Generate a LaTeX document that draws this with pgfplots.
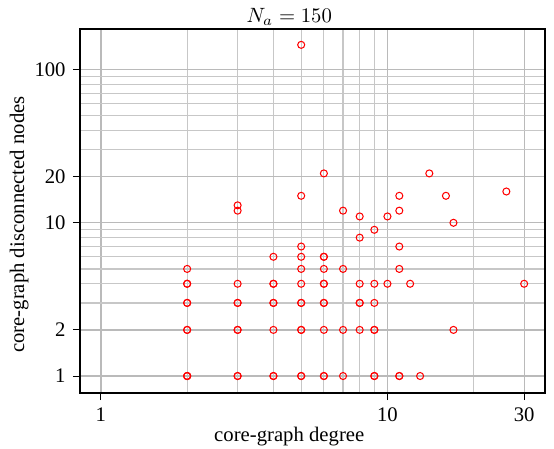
\documentclass[border=0pt]{standalone}
\usepackage{fontspec}
\setmainfont{Liberation Serif}
\usepackage{pgfplots}
\pgfplotsset{compat=1.18}
\begin{document}
\begin{tikzpicture}
\begin{axis}[
  scale only axis,
  width=224.6pt, height=175.8pt,
  xmode=log, ymode=log,
  xmin=0.845, xmax=35.5,
  ymin=0.774, ymax=184,
  xtick={1,10,30}, xticklabels={1,10,30},
  minor xtick={2,3,4,5,6,7,8,9,20},
  ytick={1,2,10,20,100}, yticklabels={1,2,10,20,100},
  minor ytick={3,4,5,6,7,8,9,30,40,50,60,70,80,90},
  grid=both,
  major grid style={draw=black!27, line width=0.6pt},
  minor grid style={draw=black!22, line width=0.6pt},
  tick align=outside,
  major tick length=3.4pt,
  minor tick length=0pt,
  xtick pos=bottom, ytick pos=left,
  axis line style={line width=0.7pt},
  every tick/.style={black, line width=0.5pt},
  /pgf/number format/assume math mode=true,
  tick label style={font=\normalsize},
  every axis title shift=0pt,
  title={$N_a = 150$},
  title style={at={(rel axis cs:0.45,1)}, anchor=base, yshift=3pt, inner sep=0pt},
  xlabel={core-graph degree},
  xlabel style={at={(rel axis cs:0.45,0)}, anchor=base, yshift=-23.5pt, inner sep=0pt},
  clip=false,
]
\addplot[only marks, mark=o, mark size=1.7pt, draw=red, mark options={line width=0.5pt}] coordinates {
(2,5) (2,4) (2,4) (2,3) (2,3) (2,2) (2,2) (2,1) (2,1) (2,1)
(3,13) (3,12) (3,4) (3,3) (3,3) (3,2) (3,2) (3,1) (3,1)
(4,6) (4,4) (4,4) (4,3) (4,3) (4,2) (4,1) (4,1)
(5,145) (5,15) (5,7) (5,6) (5,5) (5,4) (5,3) (5,3) (5,2) (5,2) (5,1) (5,1)
(6,21) (6,6) (6,6) (6,5) (6,4) (6,4) (6,3) (6,3) (6,2) (6,1) (6,1)
(7,12) (7,5) (7,2) (7,1)
(8,11) (8,8) (8,4) (8,3) (8,3) (8,2)
(9,9) (9,4) (9,3) (9,2) (9,2) (9,1) (9,1)
(10,11) (10,4)
(11,15) (11,12) (11,7) (11,5) (11,1) (11,1)
(12,4)
(13,1)
(14,21)
(16,15)
(17,10) (17,2)
(26,16)
(30,4)
};
\node[rotate=90, anchor=base, inner sep=0pt] at ([xshift=-27pt]rel axis cs:0,0.4626) {core-graph disconnected nodes};
\path (rel axis cs:0,0) ++(-38.6pt,-26.6pt) coordinate (bl);
\path (rel axis cs:1,1) ++(4.3pt,14pt) coordinate (tr);
\path[draw=none] (bl) rectangle (tr);
\end{axis}
\end{tikzpicture}
\end{document}
